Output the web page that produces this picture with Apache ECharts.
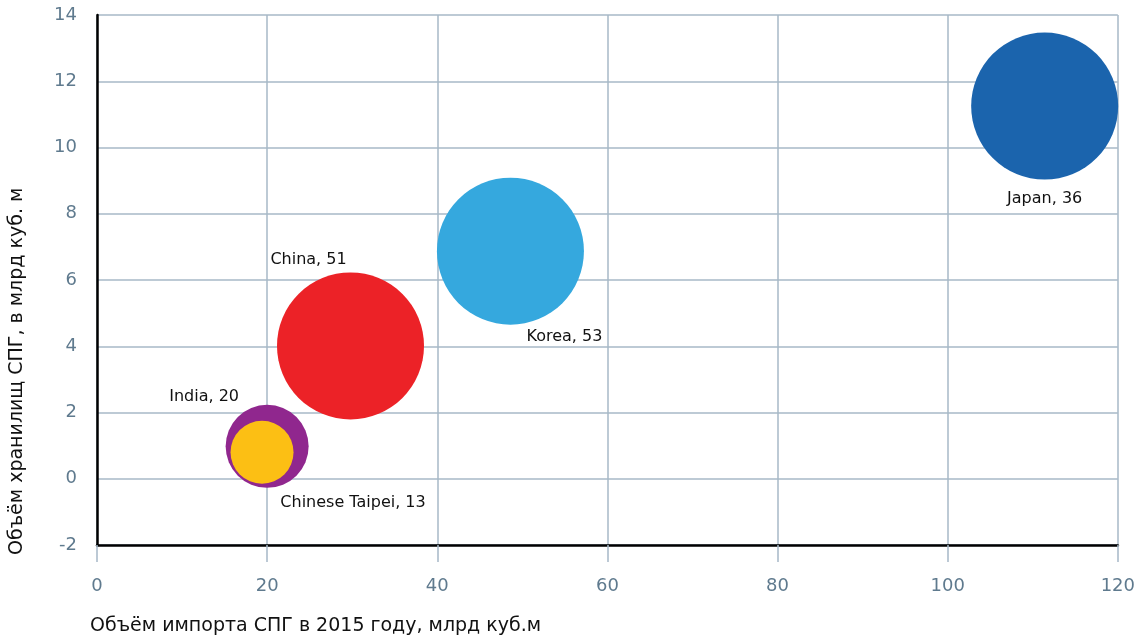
<!DOCTYPE html>
<html>
<head>
<meta charset="utf-8">
<script src="https://cdn.jsdelivr.net/npm/echarts@6/dist/echarts.min.js"></script>
<style>html,body{margin:0;padding:0;background:#fff;}#c{width:1138px;height:638px;}</style>
</head>
<body>
<div id="c"></div>
<script>
// Data
const countries = ['Japan', 'Korea', 'China', 'India', 'Chinese Taipei'];
const importVolume = [111.4, 48.6, 29.8, 20.0, 19.4];   // x: LNG imports 2015, bcm
const storageVolume = [11.25, 6.87, 4.01, 0.98, 0.8];   // y: LNG storage, bcm
const labelValues = [36, 53, 51, 20, 13];
const xTicks = [0, 20, 40, 60, 80, 100, 120];
const yTicks = [-2, 0, 2, 4, 6, 8, 10, 12, 14];

// Styles
const colors = ['#1b64ad', '#35a8de', '#ec2227', '#90278e', '#fcbf14'];
const sizes = [147, 147, 147, 83, 63];
const labelPlacement = [
  { position: 'bottom', distance: 11, offset: [0, 0] },
  { position: 'bottom', distance: 4, offset: [54, 0] },
  { position: 'top', distance: 5, offset: [-42, 0] },
  { position: 'top', distance: 0, offset: [-63, 0] },
  { position: 'bottom', distance: 11, offset: [91, 0] }
];
const gridColor = '#a7b8c7';
const tickColor = '#5f7a8e';
const font = 'DejaVu Sans';

const series = countries.map((name, i) => ({
  type: 'scatter',
  name: name,
  z: 2 + i,
  symbolSize: sizes[i],
  itemStyle: { color: colors[i], opacity: 1 },
  label: {
    show: true,
    position: labelPlacement[i].position,
    distance: labelPlacement[i].distance,
    offset: labelPlacement[i].offset,
    formatter: name + ', ' + labelValues[i],
    color: '#111',
    fontFamily: font,
    fontSize: 16
  },
  data: [[importVolume[i], storageVolume[i]]]
}));

const chart = echarts.init(document.getElementById('c'));
chart.setOption({
  animation: false,
  grid: { left: 97, right: 20, top: 15, bottom: 93 },
  xAxis: {
    type: 'value',
    min: xTicks[0], max: xTicks[xTicks.length - 1], interval: 20,
    axisLine: { show: true, onZero: false, lineStyle: { color: '#000', width: 2.5 } },
    axisTick: { show: true, length: 17, lineStyle: { color: gridColor, width: 1.5 } },
    axisLabel: { margin: 32, color: tickColor, fontFamily: font, fontSize: 18 },
    splitLine: { show: true, lineStyle: { color: gridColor, width: 1.5 } }
  },
  yAxis: {
    type: 'value',
    min: yTicks[0], max: yTicks[yTicks.length - 1], interval: 2,
    axisLine: { show: true, onZero: false, lineStyle: { color: '#000', width: 2.5 } },
    axisTick: { show: false },
    axisLabel: { margin: 20, color: tickColor, fontFamily: font, fontSize: 18 },
    splitLine: { show: true, lineStyle: { color: gridColor, width: 1.5 } }
  },
  graphic: [
    {
      type: 'text', left: 90, top: 617,
      style: { text: 'Объём импорта СПГ в 2015 году, млрд куб.м', fill: '#111', font: '19px "DejaVu Sans"' }
    },
    {
      type: 'text', x: 8, y: 555, rotation: Math.PI / 2,
      style: { text: 'Объём хранилищ СПГ, в млрд куб. м', fill: '#111', font: '19px "DejaVu Sans"', textAlign: 'left', textVerticalAlign: 'top' }
    }
  ],
  series: series
});
</script>
</body>
</html>
